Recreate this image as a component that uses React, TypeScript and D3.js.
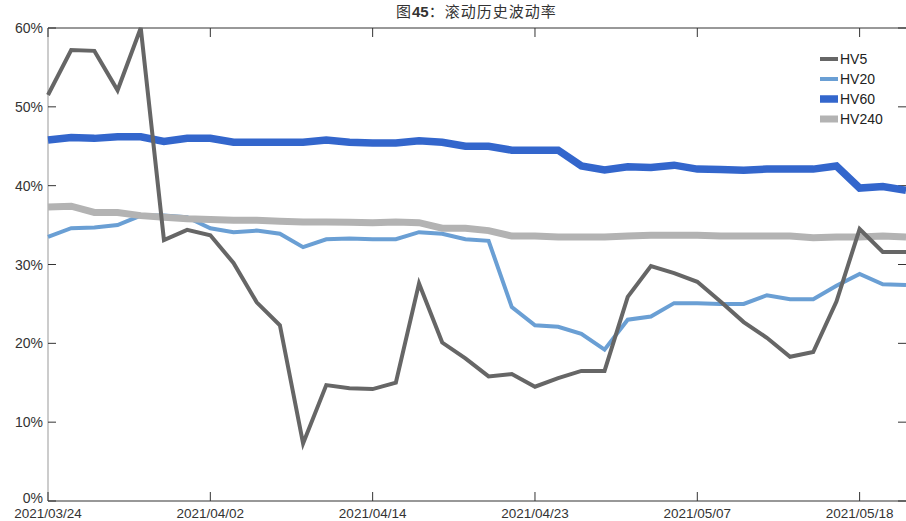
import React from "react";
import * as d3 from "d3";

const dates = [
  "2021/03/24","2021/03/25","2021/03/26","2021/03/29","2021/03/30","2021/03/31","2021/04/01","2021/04/02",
  "2021/04/06","2021/04/07","2021/04/08","2021/04/09","2021/04/12","2021/04/13","2021/04/14",
  "2021/04/15","2021/04/16","2021/04/19","2021/04/20","2021/04/21","2021/04/22","2021/04/23",
  "2021/04/26","2021/04/27","2021/04/28","2021/04/29","2021/04/30","2021/05/06","2021/05/07",
  "2021/05/10","2021/05/11","2021/05/12","2021/05/13","2021/05/14","2021/05/17","2021/05/18",
  "2021/05/19","2021/05/20",
];
const tickLabels = ["2021/03/24","2021/04/02","2021/04/14","2021/04/23","2021/05/07","2021/05/18"];
const yTicks = [0, 10, 20, 30, 40, 50, 60];

const hv5 = [51.5,57.2,57.1,52.1,60.0,33.1,34.4,33.7,30.2,25.2,22.3,7.3,14.7,14.3,14.2,15.0,27.6,20.1,18.1,15.8,16.1,14.5,15.6,16.5,16.5,25.9,29.8,28.9,27.8,25.3,22.7,20.7,18.3,18.9,25.3,34.5,31.6,31.6];
const hv20 = [33.5,34.6,34.7,35.0,36.2,36.2,36.0,34.6,34.1,34.3,33.9,32.2,33.2,33.3,33.2,33.2,34.1,33.9,33.2,33.0,24.6,22.3,22.1,21.2,19.2,23.0,23.4,25.1,25.1,25.0,25.0,26.1,25.6,25.6,27.3,28.8,27.5,27.4];
const hv60 = [45.8,46.1,46.0,46.2,46.2,45.6,46.0,46.0,45.5,45.5,45.5,45.5,45.8,45.5,45.4,45.4,45.7,45.5,45.0,45.0,44.5,44.5,44.5,42.5,42.0,42.4,42.3,42.6,42.1,42.05,41.95,42.1,42.1,42.1,42.5,39.7,39.9,39.4];
const hv240 = [37.3,37.4,36.6,36.6,36.2,36.0,35.8,35.7,35.6,35.6,35.5,35.4,35.4,35.35,35.3,35.4,35.3,34.6,34.6,34.3,33.6,33.6,33.5,33.5,33.5,33.6,33.7,33.7,33.7,33.6,33.6,33.6,33.6,33.4,33.5,33.5,33.6,33.5];

const seriesNames = ["HV5", "HV20", "HV60", "HV240"];
const seriesData = [hv5, hv20, hv60, hv240];
const seriesColors = ["#666666", "#6a9fd4", "#3366cc", "#b3b3b3"];
const seriesWidths = [4, 4, 7.5, 7];
const drawOrder = [1, 3, 2, 0];

const W = 906, H = 521;
const M = { left: 48, right: 0, top: 28, bottom: 20 };

export default function App() {
  const x = d3.scaleLinear().domain([0, dates.length - 1]).range([M.left, W - M.right]);
  const y = d3.scaleLinear().domain([0, 60]).range([H - M.bottom, M.top]);
  const line = d3.line<number>().x((_, i) => x(i)).y((d) => y(d));
  const font = "'Liberation Sans', Arial, sans-serif";
  const x0 = x.range()[0], x1 = x.range()[1];
  const yb = y(0), yt = y(60);
  return (
    <div style={{ position: "absolute", left: 0, top: 0 }}>
      <svg width={W} height={H} style={{ display: "block" }}>
        <rect width={W} height={H} fill="#fff" />
        <text x={396} y={17} fontFamily="'Noto Sans CJK SC', sans-serif" fontSize={15} letterSpacing={1} fill="#333">
          图<tspan fontWeight="bold" fontFamily={font} letterSpacing={0}>45</tspan>：滚动历史波动率
        </text>
        <line x1={x0} x2={x1} y1={yt} y2={yt} stroke="#333" strokeWidth={1} />
        <line x1={x0} x2={x1} y1={yb} y2={yb} stroke="#333" strokeWidth={1.2} />
        <line x1={x0} x2={x0} y1={yt} y2={yb} stroke="#999" strokeWidth={1} />
        {yTicks.map((t) => (
          <g key={t}>
            <line x1={x0} x2={x0 + 8} y1={y(t)} y2={y(t)} stroke="#333" />
            <line x1={x1 - 8} x2={x1} y1={y(t)} y2={y(t)} stroke="#333" />
            <text x={x0 - 5} y={t === 0 ? y(t) + 1.5 : y(t) + 5} textAnchor="end" fontFamily={font} fontSize={14} fill="#333">
              {t}%
            </text>
          </g>
        ))}
        {tickLabels.map((lab) => {
          const i = dates.indexOf(lab);
          return (
            <g key={lab}>
              <line x1={x(i)} x2={x(i)} y1={yb} y2={yb - 9} stroke="#333" />
              <line x1={x(i)} x2={x(i)} y1={yt} y2={yt + 9} stroke="#333" />
              <text x={x(i)} y={H - 3} textAnchor="middle" fontFamily={font} fontSize={13.5} fill="#333">
                {lab}
              </text>
            </g>
          );
        })}
        {drawOrder.map((k) => (
          <path
            key={seriesNames[k]}
            d={line(seriesData[k]) || ""}
            fill="none"
            stroke={seriesColors[k]}
            strokeWidth={seriesWidths[k]}
            strokeLinejoin="miter"
          />
        ))}
        {seriesNames.map((n, k) => (
          <g key={n} transform={`translate(820, ${59 + k * 20})`}>
            <line x1={0} x2={18} y1={0} y2={0} stroke={seriesColors[k]} strokeWidth={seriesWidths[k]} />
            <text x={20} y={5} fontFamily={font} fontSize={14} fill="#222">
              {n}
            </text>
          </g>
        ))}
      </svg>
    </div>
  );
}
